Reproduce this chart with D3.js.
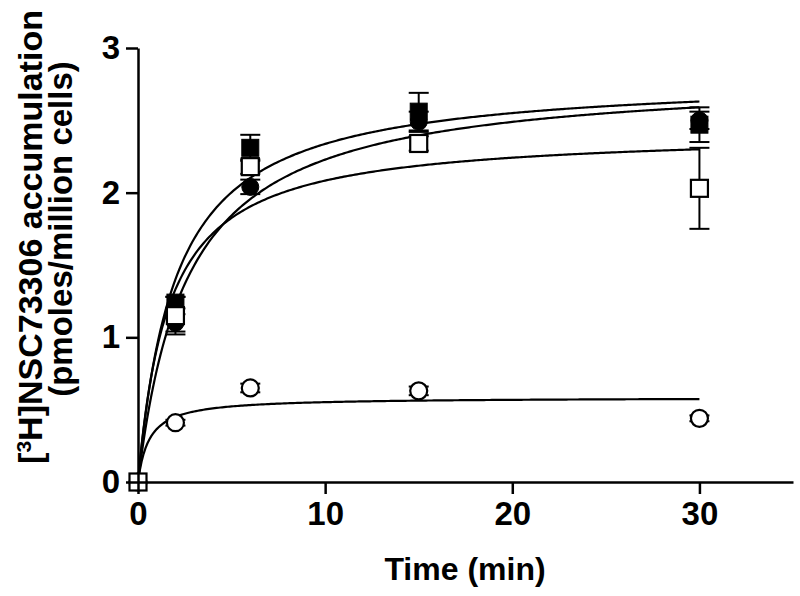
<!DOCTYPE html>
<html>
<head>
<meta charset="utf-8">
<script src="https://cdn.jsdelivr.net/npm/d3@7"></script>
<style>
  body { margin: 0; background: #fff; }
  text { font-family: Arial, "Liberation Sans", sans-serif; font-weight: bold; fill: #000; }
</style>
</head>
<body>
<div id="chart"></div>
<script>
var times = [0, 2, 6, 15, 30];

var filledSquares = [0, 1.24, 2.31, 2.56, 2.47];
var filledSquaresErr = [0, 0.04, 0.09, 0.13, 0.12];
var filledCircles = [0, 1.10, 2.04, 2.49, 2.50];
var filledCirclesErr = [0, 0.06, 0.05, 0.07, 0.06];
var openSquares = [0, 1.15, 2.18, 2.34, 2.03];
var openSquaresErr = [0, 0.13, 0.05, 0.05, 0.28];
var openCircles = [0, 0.41, 0.65, 0.63, 0.44];
var openCirclesErr = [0, 0.02, 0.03, 0.03, 0.02];

// one-site hyperbola fits (Bmax, Kd), same order as the series
var fitBmax = [2.806, 2.819, 2.426, 0.585];
var fitKd = [2.007, 2.65, 1.645, 0.6];
var fitEnd = 30;

var xTicks = [0, 10, 20, 30];
var yTicks = [0, 1, 2, 3];

var width = 800, height = 596;

var svg = d3.select('#chart').append('svg')
  .attr('width', width)
  .attr('height', height);

var x = d3.scaleLinear().domain([0, 35]).range([138, 793]);
var y = d3.scaleLinear().domain([0, 3]).range([482, 48]);

var series = [
  { values: filledSquares, err: filledSquaresErr, shape: 'square', fill: '#000' },
  { values: filledCircles, err: filledCirclesErr, shape: 'circle', fill: '#000' },
  { values: openSquares, err: openSquaresErr, shape: 'square', fill: '#fff' },
  { values: openCircles, err: openCirclesErr, shape: 'circle', fill: '#fff' }
];

// fitted curves
var line = d3.line()
  .x(function (d) { return x(d[0]); })
  .y(function (d) { return y(d[1]); });

var curveTimes = d3.range(0, fitEnd + 0.001, 0.1);

fitBmax.forEach(function (b, i) {
  var pts = curveTimes.map(function (t) { return [t, b * t / (fitKd[i] + t)]; });
  svg.append('path')
    .attr('d', line(pts))
    .attr('fill', 'none')
    .attr('stroke', '#000')
    .attr('stroke-width', 2.2);
});

// error bars
var capW = 10;
series.forEach(function (s) {
  var g = svg.append('g').attr('stroke', '#000').attr('stroke-width', 2);
  times.forEach(function (t, j) {
    if (!s.err[j]) return;
    var cx = x(t), top = y(s.values[j] + s.err[j]), bot = y(s.values[j] - s.err[j]);
    g.append('line').attr('x1', cx).attr('x2', cx).attr('y1', top).attr('y2', bot);
    g.append('line').attr('x1', cx - capW).attr('x2', cx + capW).attr('y1', top).attr('y2', top);
    g.append('line').attr('x1', cx - capW).attr('x2', cx + capW).attr('y1', bot).attr('y2', bot);
  });
});

// markers, open circles underneath, open squares on top
var drawOrder = [3, 1, 0, 2];
var half = 8.5;
drawOrder.forEach(function (k) {
  var s = series[k];
  var g = svg.append('g');
  times.forEach(function (t, j) {
    var m;
    if (s.shape === 'square') {
      m = g.append('rect')
        .attr('x', x(t) - half).attr('y', y(s.values[j]) - half)
        .attr('width', half * 2).attr('height', half * 2);
    } else {
      m = g.append('circle')
        .attr('cx', x(t)).attr('cy', y(s.values[j])).attr('r', half);
    }
    m.attr('fill', s.fill)
      .attr('stroke', '#000')
      .attr('stroke-width', s.fill === '#000' ? 1 : 2.2);
  });
});

// axes
var xAxis = d3.axisBottom(x).tickValues(xTicks).tickFormat(d3.format('d'))
  .tickSize(12).tickSizeOuter(0).tickPadding(8);
var yAxis = d3.axisLeft(y).tickValues(yTicks).tickFormat(d3.format('d'))
  .tickSize(12).tickSizeOuter(0).tickPadding(6);

var gx = svg.append('g').attr('transform', 'translate(0,' + y(0) + ')').call(xAxis);
var gy = svg.append('g').attr('transform', 'translate(' + x(0) + ',0)').call(yAxis);

[gx, gy].forEach(function (g) {
  g.select('.domain').attr('stroke-width', 2.5);
  g.selectAll('.tick line').attr('stroke-width', 2.5);
  g.selectAll('.tick text')
    .style('font-size', '33px')
    .style('font-family', 'Arial, "Liberation Sans", sans-serif')
    .style('font-weight', 'bold');
});

svg.append('text')
  .attr('x', 465)
  .attr('y', 580)
  .attr('text-anchor', 'middle')
  .style('font-size', '32px')
  .text('Time (min)');

var ylab = svg.append('text')
  .attr('transform', 'translate(42,237) rotate(-90)')
  .attr('text-anchor', 'middle')
  .style('font-size', '34px');
ylab.append('tspan').text('[');
ylab.append('tspan').attr('baseline-shift', 'super').style('font-size', '21px').text('3');
ylab.append('tspan').text('H]NSC73306 accumulation');

svg.append('text')
  .attr('transform', 'translate(72,229) rotate(-90)')
  .attr('text-anchor', 'middle')
  .style('font-size', '33px')
  .text('(pmoles/million cells)');
</script>
</body>
</html>
